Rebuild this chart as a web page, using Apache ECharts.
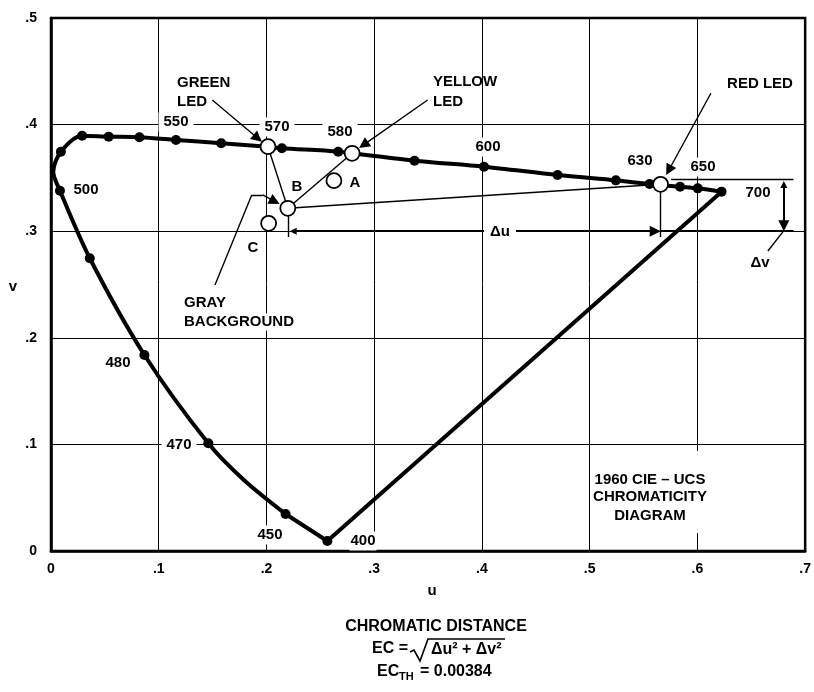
<!DOCTYPE html>
<html><head><meta charset="utf-8">
<script src="https://cdn.jsdelivr.net/npm/echarts@6/dist/echarts.min.js"></script>
<style>html,body{margin:0;padding:0;background:#fff}#c{width:814px;height:692px}</style>
</head><body><div id="c"></div>
<script>
// ---- data (CIE 1960 UCS u, v) ----
// spectral-locus dots (400, 450, 470, 480, 490, 500, 510 ... 650, 700 nm)
const dotU = [0.2565, 0.2177, 0.1460, 0.0867, 0.0360, 0.0083, 0.0092, 0.0289, 0.0535, 0.0821, 0.1160, 0.1580, 0.2143, 0.2666, 0.3374, 0.4019, 0.4702, 0.5243, 0.5556, 0.5839, 0.6003, 0.6224];
const dotV = [0.0094, 0.0347, 0.1010, 0.1839, 0.2746, 0.3380, 0.3746, 0.3896, 0.3887, 0.3881, 0.3856, 0.3825, 0.3778, 0.3746, 0.3661, 0.3605, 0.3527, 0.3477, 0.3443, 0.3417, 0.3402, 0.3371];
// smooth locus path from 450 nm round to 700 nm (dots plus points)
const pathU = [0.2177, 0.1790, 0.1460, 0.0867, 0.0360, 0.0083, 0.0021, 0.0092, 0.0289, 0.0535, 0.0821, 0.1160, 0.1580, 0.2014, 0.2143, 0.2666, 0.3374, 0.4019, 0.4702, 0.5243, 0.5556, 0.5839, 0.6003, 0.6224];
const pathV = [0.0347, 0.0666, 0.1010, 0.1839, 0.2746, 0.3380, 0.3558, 0.3746, 0.3896, 0.3887, 0.3881, 0.3856, 0.3825, 0.3793, 0.3778, 0.3746, 0.3661, 0.3605, 0.3527, 0.3477, 0.3443, 0.3417, 0.3402, 0.3371];
// LEDs (green, yellow, red) and points A, B, C
const ledU = [0.2014, 0.2795, 0.5658];
const ledV = [0.3793, 0.3731, 0.3440];
const ptU = [0.2626, 0.2198, 0.2020];
const ptV = [0.3474, 0.3215, 0.3074];
const xTicks = ['0', '.1', '.2', '.3', '.4', '.5', '.6', '.7'];
const yTicks = ['0', '.1', '.2', '.3', '.4', '.5'];
const wlLabels = ['550', '570', '580', '600', '630', '650', '700', '500', '480', '470', '450', '400'];

const FF = '"Liberation Sans", Arial, Helvetica, sans-serif';
const chart = echarts.init(document.getElementById('c'), null, {renderer: 'canvas'});

const G = [ledU[0], ledV[0]], Y = [ledU[1], ledV[1]], R = [ledU[2], ledV[2]];
const B = [ptU[1], ptV[1]];
const first = [dotU[0], dotV[0]], d450 = [dotU[1], dotV[1]], last = [dotU[dotU.length - 1], dotV[dotV.length - 1]];

function T(text, x, y, o) {
  o = o || {};
  const st = {
    text: text, x: 0, y: 0, fill: '#000',
    fontSize: o.size || 15, fontWeight: 'bold', fontFamily: FF,
    align: o.align || 'center', verticalAlign: 'middle'
  };
  if (o.bg) { st.backgroundColor = '#fff'; st.padding = o.pad || [2, 4]; }
  return {type: 'text', x: x, y: y, z: 100, silent: true, style: st};
}

const wlPos = [[176,122,[2,5]],[277,127,[2,5]],[340,132,[2,5]],[488,147,[2,5]],[640,161,0],[703,167,[2,5]],[758,193,0],[86,190,0],[118,363,0],[179,445,[2,5]],[270,535,[2,4]],[363,541,[2,1]]];
const graphics = [];
wlLabels.forEach((t, i) => graphics.push(T(t, wlPos[i][0], wlPos[i][1], {bg: !!wlPos[i][2], pad: wlPos[i][2]})));
graphics.push(
  T('A', 355, 183), T('B', 297, 187), T('C', 253, 248),
  T('GREEN', 177, 83, {align: 'left'}), T('LED', 177, 102, {align: 'left'}),
  T('YELLOW', 433, 82, {align: 'left'}), T('LED', 433, 102, {align: 'left'}),
  T('RED LED', 760, 84),
  T('GRAY', 182, 303, {align: 'left', bg: 1, pad: [1, 2]}),
  T('BACKGROUND', 182, 322, {align: 'left', bg: 1, pad: [1, 2]}),
  T('\u0394u', 500, 232, {bg: 1, pad: [2, 6]}),
  T('\u0394v', 760, 263),
  {type: 'rect', z: 99, silent: true, shape: {x: 590, y: 451, width: 122, height: 82}, style: {fill: '#fff'}},
  T('1960 CIE \u2013 UCS', 650, 480), T('CHROMATICITY', 650, 497), T('DIAGRAM', 650, 516),
  T('u', 432, 591), T('v', 13, 287),
  T('CHROMATIC DISTANCE', 436, 627, {size: 16}),
  T('EC =', 408, 649, {align: 'right', size: 16}),
  {type: 'polyline', z: 100, silent: true, shape: {points: [[410, 652], [414, 650], [420, 661], [428, 639], [505, 639]]}, style: {stroke: '#000', lineWidth: 1.6, fill: null}},
  T('\u0394u\u00b2 + \u0394v\u00b2', 431, 650, {align: 'left', size: 16}),
  T('EC', 377, 672, {align: 'left', size: 16}),
  T('TH', 399, 677, {align: 'left', size: 11}),
  T('= 0.00384', 420, 672, {align: 'left', size: 16})
);

const thin = {color: '#000', width: 1.4, opacity: 1};
const option = {
  animation: false,
  backgroundColor: '#fff',
  grid: {left: 51, right: 4, top: 18, bottom: 141, show: true, borderColor: '#000', borderWidth: 2.5},
  xAxis: {
    type: 'value', min: 0, max: 0.7, interval: 0.1,
    axisLine: {show: true, onZero: false, lineStyle: {color: '#000', width: 2.5}},
    axisTick: {show: false},
    splitLine: {show: true, lineStyle: {color: '#000', width: 1}},
    axisLabel: {color: '#000', fontSize: 14, fontWeight: 'bold', fontFamily: FF, margin: 11,
      formatter: v => xTicks[Math.round(v * 10)]}
  },
  yAxis: {
    type: 'value', min: 0, max: 0.5, interval: 0.1,
    axisLine: {show: true, onZero: false, lineStyle: {color: '#000', width: 2.5}},
    axisTick: {show: false},
    splitLine: {show: true, lineStyle: {color: '#000', width: 1}},
    axisLabel: {color: '#000', fontSize: 14, fontWeight: 'bold', fontFamily: FF, margin: 14,
      formatter: v => yTicks[Math.round(v * 10)]}
  },
  graphic: graphics,
  series: [
    { // construction lines
      type: 'lines', coordinateSystem: 'cartesian2d', silent: true, z: 3,
      symbol: 'none', lineStyle: thin,
      data: [
        {coords: [G, B]}, {coords: [B, Y]}, {coords: [B, R]},
        {coords: [B, [B[0], 0.2946]]}, {coords: [R, [R[0], 0.2946]]},
        {coords: [[0.5756, 0.3490], [0.6891, 0.3490]]},
        {coords: [[R[0], 0.3], [0.6891, 0.3]], lineStyle: {width: 2}},
        {coords: [[0.6654, 0.2814], [0.6795, 0.2996]]},
        {coords: [[0.1522, 0.2495], [0.1863, 0.3340]]},
        {coords: [[0.1863, 0.3340], [0.1965, 0.3340]]}
      ]
    },
    { // leader arrows
      type: 'lines', coordinateSystem: 'cartesian2d', silent: true, z: 3,
      symbol: ['none', 'triangle'], symbolSize: [7, 11], lineStyle: thin,
      data: [
        {coords: [[0.1497, 0.4231], [0.1919, 0.3872]]},
        {coords: [[0.3496, 0.4231], [0.2901, 0.3810]]},
        {coords: [[0.6125, 0.4294], [0.5734, 0.3572]]},
        {coords: [[0.1965, 0.3340], [0.2077, 0.3280]]}
      ]
    },
    { // delta arrows
      type: 'lines', coordinateSystem: 'cartesian2d', silent: true, z: 3,
      symbol: ['triangle', 'triangle'], symbolSize: [7, 11], lineStyle: {color: '#000', width: 2, opacity: 1},
      data: [
        {coords: [[B[0] + 0.005, 0.3], [R[0] - 0.005, 0.3]]},
        {coords: [[0.6802, 0.3438], [0.6802, 0.3052]]}
      ]
    },
    { // straight parts of the locus: 400-450 and purple line 700-400
      type: 'lines', coordinateSystem: 'cartesian2d', silent: true, z: 4,
      symbol: 'none', lineStyle: {color: '#000', width: 4, opacity: 1},
      data: [{coords: [first, d450]}, {coords: [last, first]}]
    },
    { // spectral locus
      type: 'line', silent: true, z: 4, smooth: 0.3, showSymbol: false,
      lineStyle: {color: '#000', width: 4},
      data: pathU.map((u, i) => [u, pathV[i]])
    },
    { // locus dots
      type: 'scatter', silent: true, z: 5, symbol: 'circle', symbolSize: 10,
      itemStyle: {color: '#000', opacity: 1},
      data: dotU.map((u, i) => [u, dotV[i]])
    },
    { // open circles: LEDs and A, B, C
      type: 'scatter', silent: true, z: 6, symbol: 'circle', symbolSize: 15,
      itemStyle: {color: '#fff', borderColor: '#000', borderWidth: 1.8, opacity: 1},
      data: ledU.map((u, i) => [u, ledV[i]]).concat(ptU.map((u, i) => [u, ptV[i]]))
    }
  ]
};
chart.setOption(option);
</script>
</body></html>
